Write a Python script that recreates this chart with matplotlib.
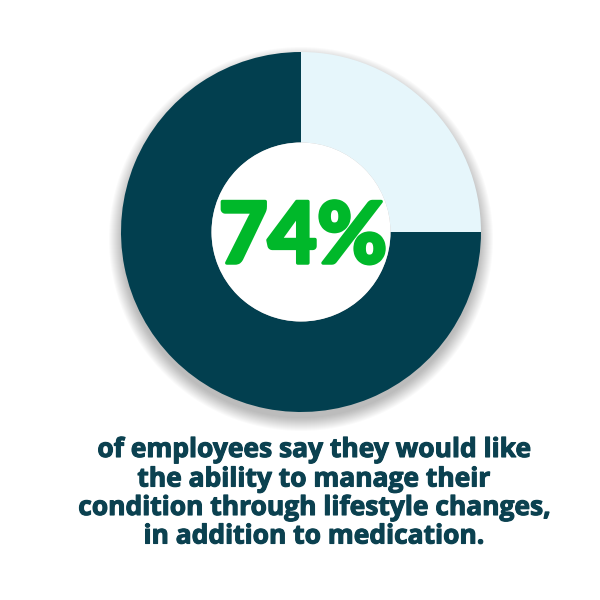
import matplotlib
matplotlib.use("Agg")
import matplotlib.pyplot as plt
import matplotlib.patheffects as pe
from matplotlib.patches import Circle

# Datos
segmentos = [25, 75]          # parte clara, parte oscura
colores = ["#e6f6fb", "#023f4f"]
porcentaje = "74%"
texto = ["of employees say they would like",
         "the ability to manage their",
         "condition through lifestyle changes,",
         "in addition to medication."]

fig = plt.figure(figsize=(6, 6), dpi=100)
ax = fig.add_axes([0, 0, 1, 1])

cx, cy = 301, 368
radio = 180

# sombra suave debajo del anillo
for k in range(14):
    ax.add_patch(Circle((cx, cy - 7), radio + 12 - k, color="black",
                        alpha=0.018, lw=0, zorder=1))

ax.pie(segmentos, colors=colores, startangle=90, counterclock=False,
       center=(cx, cy), radius=radio, frame=True,
       wedgeprops=dict(width=radio - 89.5, linewidth=0, zorder=2))
ax.add_patch(Circle((cx, cy), 89.5, color="white", lw=0, zorder=3))
ax.set_xlim(0, 600)
ax.set_ylim(0, 600)
ax.set_aspect("equal")
ax.axis("off")

verde = "#00b82a"
ax.text(303, 600 - 263, porcentaje, ha="center", va="baseline", color=verde,
        fontsize=61, fontweight=900, family="Lato", zorder=4,
        path_effects=[pe.withStroke(linewidth=2.5, foreground=verde)])

azul = "#0b4150"
bases = [457, 486.5, 515, 543.5]
for linea, b in zip(texto, bases):
    ax.text(313.5, 600 - b, linea, ha="center", va="baseline", color=azul,
            fontsize=19, fontweight="bold", family="Open Sans", zorder=4,
            path_effects=[pe.withStroke(linewidth=0.8, foreground=azul)])

fig.savefig("out.png", dpi=100, facecolor="white")
